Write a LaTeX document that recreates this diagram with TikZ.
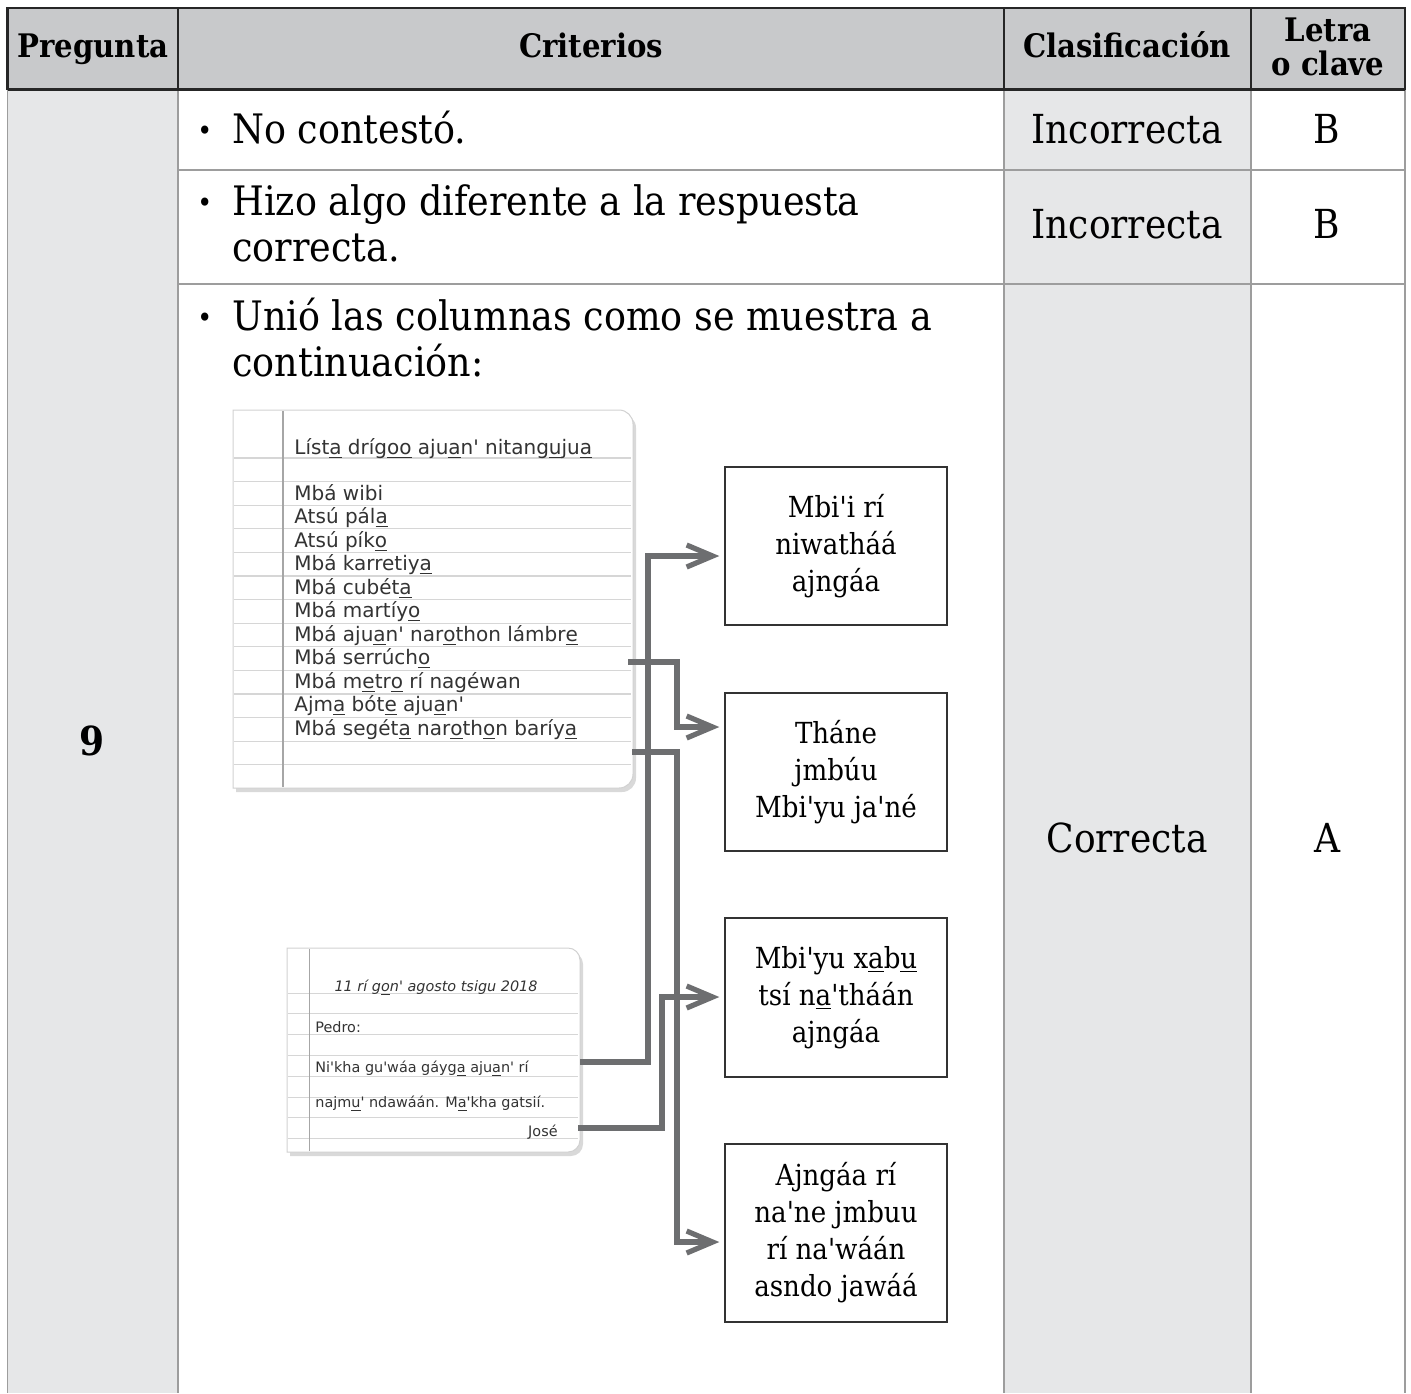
\documentclass[tikz,border=0pt]{standalone}
\usepackage{fontspec}
\setmainfont{DejaVu Serif Condensed}
\newfontfamily\handfont{DejaVu Sans}
\usetikzlibrary{arrows.meta,positioning,calc,shadows}

\definecolor{headgray}{HTML}{C8C9CB}
\definecolor{cellgray}{HTML}{E6E7E8}
\definecolor{linkgray}{HTML}{6D6E70}
\definecolor{rulegray}{HTML}{D6D6D6}
\definecolor{framegray}{HTML}{9D9D9D}
\definecolor{inkgray}{HTML}{333333}

\newcommand{\lo}[1]{\underline{#1}}
\newcommand{\ap}{\textquotesingle}

\tikzset{
  headline/.style={draw=black!85, line width=1.2pt},
  gridline/.style={draw=framegray, line width=0.6pt},
  headtxt/.style={font=\fontsize{16.2}{17}\selectfont\bfseries, anchor=base, inner sep=0},
  bodytxt/.style={font=\fontsize{20.3}{23}\selectfont, anchor=base west, align=left, inner sep=0},
  dot/.style={font=\fontsize{14}{14}\selectfont, anchor=base west, inner sep=0},
  celltxt/.style={font=\fontsize{20}{23}\selectfont, anchor=base, inner sep=0},
  optbox/.style={draw=black!80, line width=0.7pt, minimum width=111pt, align=center,
    font=\fontsize{14.5}{18.5}\selectfont, inner sep=0},
  link/.style={draw=linkgray, line width=2.6pt, -{Straight Barb[length=13pt,width=11pt]},
    shorten >=2.5pt},
  note/.style={fill=white, draw=black!18, line width=0.5pt,
    drop shadow={shadow xshift=1.5pt, shadow yshift=-2pt, opacity=0.3}},
  hand/.style={font=\handfont\fontsize{10}{11}\selectfont, text=inkgray, anchor=base west, inner sep=0},
  smallhand/.style={hand, font=\handfont\fontsize{7.2}{8}\selectfont}
}

\begin{document}
\begin{tikzpicture}[x=0.5pt,y=-0.5pt]
  \useasboundingbox (0,0) rectangle (1411,1393);

  % table
  \fill [headgray] (7.5,8) rectangle (1405,89.5);
  \fill [cellgray] (7.5,89.5) rectangle (178,1393);
  \fill [cellgray] (1004,89.5) rectangle (1251,1393);
  \foreach \x in {7.5,178,1004,1251,1405}
    \draw [gridline] (\x,89.5) -- (\x,1393);
  \draw [gridline] (178,170) -- (1405,170);
  \draw [gridline] (178,284) -- (1405,284);
  \draw [headline] (7.5,89.5) -- (7.5,8) -- (1405,8) -- (1405,89.5);
  \foreach \x in {178,1004,1251}
    \draw [headline] (\x,8) -- (\x,89.5);
  \draw [headline, line width=1.6pt] (7.5,89.5) -- (1405,89.5);

  \node [headtxt] (hq) at (93,57) {Pregunta};
  \node [headtxt] (hc) at (591,57) {Criterios};
  \node [headtxt] (hk) at (1127,57) {Clasificación};
  \node [headtxt, anchor=center, align=center] (hl) at (1328,47) {Letra\\o clave};

  \node [celltxt, font=\fontsize{20}{23}\selectfont\bfseries] (num) at (92,755) {9};

  \node [dot] (d1) at (197,140) {\textbullet};
  \node [bodytxt] (c1) at (232,143) {No contestó.};
  \node [dot] (d2) at (197,212) {\textbullet};
  \node [bodytxt] (c2) at (232,261) {Hizo algo diferente a la respuesta\\correcta.};
  \node [dot] (d3) at (197,327) {\textbullet};
  \node [bodytxt] (c3) at (232,376) {Unió las columnas como se muestra a\\continuación:};

  \node [celltxt] (k1) at (1127,143) {Incorrecta};
  \node [celltxt] (l1) at (1327,143) {B};
  \node [celltxt] (k2) at (1127,238) {Incorrecta};
  \node [celltxt] (l2) at (1327,238) {B};
  \node [celltxt] (k3) at (1127,852) {Correcta};
  \node [celltxt] (l3) at (1327,852) {A};

  % list notebook
  \path [note] (233,410) [rounded corners=7pt] -- (633,410) -- (633,788)
    [sharp corners] -- (233,788) -- cycle;
  \foreach \i in {0,...,13}
    \draw [rulegray, line width=0.6pt] (234,458+23.6*\i) -- (631,458+23.6*\i);
  \draw [black!35, line width=0.6pt] (283,411) -- (283,787);
  \node [hand] (lt) at (294,454) {Líst\lo{a} dríg\lo{oo} aju\lo{a}n\ap{} nitang\lo{u}ju\lo{a}};
  \node [hand] (i1) at (294,500) {Mbá wibi};
  \node [hand] (i2) at (294,523.5) {Atsú pál\lo{a}};
  \node [hand] (i3) at (294,547) {Atsú pík\lo{o}};
  \node [hand] (i4) at (294,570.5) {Mbá karretiy\lo{a}};
  \node [hand] (i5) at (294,594) {Mbá cubét\lo{a}};
  \node [hand] (i6) at (294,617.5) {Mbá martíy\lo{o}};
  \node [hand] (i7) at (294,641) {Mbá aju\lo{a}n\ap{} nar\lo{o}thon lámbr\lo{e}};
  \node [hand] (i8) at (294,664.5) {Mbá serrúch\lo{o}};
  \node [hand] (i9) at (294,688) {Mbá m\lo{e}tr\lo{o} rí nagéwan};
  \node [hand] (i10) at (294,711.5) {Ajm\lo{a} bót\lo{e} aju\lo{a}n\ap};
  \node [hand] (i11) at (294,735) {Mbá segét\lo{a} nar\lo{o}th\lo{o}n baríy\lo{a}};

  % letter notebook
  \path [note] (287,948) [rounded corners=6pt] -- (580,948) -- (580,1152)
    [sharp corners] -- (287,1152) -- cycle;
  \foreach \i in {0,...,7}
    \draw [rulegray, line width=0.5pt] (288,993+20.8*\i) -- (578,993+20.8*\i);
  \draw [black!35, line width=0.5pt] (309,949) -- (309,1151);
  \node [smallhand, anchor=base, font=\handfont\itshape\fontsize{7.2}{8}\selectfont] (dt) at (436,991) {11 rí g\lo{o}n\ap{} agosto tsigu 2018};
  \node [smallhand] (pd) at (315,1032) {Pedro:};
  \node [smallhand] (m1) at (315,1072) {Ni\ap{}kha gu\ap{}wáa gáyg\lo{a} aju\lo{a}n\ap{} rí};
  \node [smallhand] (m2) at (315,1107) {najm\lo{u}\ap{} ndawáán. M\lo{a}\ap{}kha gatsií.};
  \node [smallhand, anchor=base east] (js) at (558,1136) {José};

  % word boxes
  \node [optbox, minimum height=79pt] (b1) at (836,546) {Mbi\ap{}i rí\\niwatháá\\ajngáa};
  \node [optbox, minimum height=79pt] (b2) at (836,772) {Tháne\\jmbúu\\Mbi\ap{}yu ja\ap{}né};
  \node [optbox, minimum height=79.5pt] (b3) at (836,997.5) {Mbi\ap{}yu x\lo{a}b\lo{u}\\tsí n\lo{a}\ap{}tháán\\ajngáa};
  \node [optbox, minimum height=89pt] (b4) at (836,1233) {Ajngáa rí\\na\ap{}ne jmbuu\\rí na\ap{}wáán\\asndo jawáá};

  % connectors
  \coordinate (s1) at (580,1062);
  \coordinate (s2) at (628,662);
  \coordinate (s3) at (632,752);
  \coordinate (s4) at (578,1128);
  \draw [link] (s1) -| (648,556) -- (b1.west |- 648,556);
  \draw [link] (s2) -| (677,727) -- (b2.west |- 677,727);
  \draw [link] (s3) -| (677,1242) -- (b4.west |- 677,1242);
  \draw [link] (s4) -| (662,997) -- (b3.west |- 662,997);
\end{tikzpicture}
\end{document}
